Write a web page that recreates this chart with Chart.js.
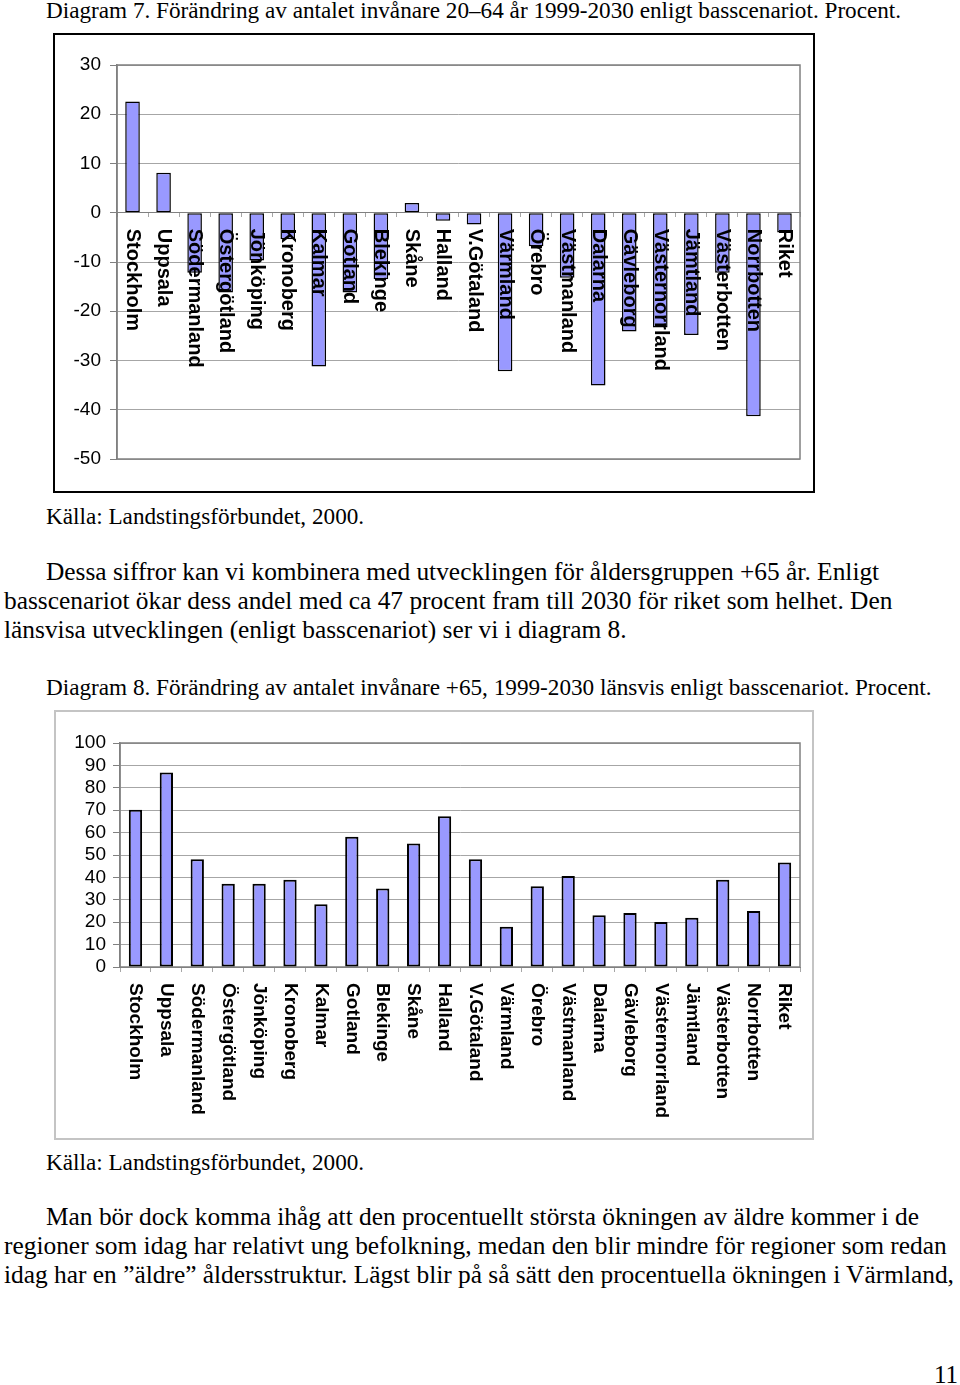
<!DOCTYPE html>
<html lang="sv">
<head>
<meta charset="utf-8">
<title>Diagram 7 och 8</title>
<script src="https://cdn.jsdelivr.net/npm/chart.js@4.4.1/dist/chart.umd.min.js"></script>
<style>
  html, body { margin: 0; padding: 0; background: #fff; }
  body {
    width: 960px; height: 1385px; position: relative; overflow: hidden;
    font-family: "Liberation Serif", "Times New Roman", serif; color: #000;
  }
  .txt { position: absolute; white-space: nowrap; line-height: 1; }
  .t23 { font-size: 23.2px; }
  .p25 { font-size: 25.4px; line-height: 29px; left: 4px; text-indent: 42px; }
  .frame { position: absolute; box-sizing: border-box; }
  .chart { position: absolute; }
</style>
</head>
<body>

<div class="txt t23" style="left:46px; top:-1px;">Diagram 7. Förändring av antalet invånare 20–64 år 1999-2030 enligt basscenariot. Procent.</div>

<div class="frame" style="left:53px; top:33px; width:762px; height:460px; border:2px solid #000;"></div>
<div class="chart" style="left:53px; top:33px; width:762px; height:460px;">
  <canvas id="diagram7"></canvas>
</div>

<div class="txt t23" style="left:46px; top:505px;">Källa: Landstingsförbundet, 2000.</div>

<div class="txt p25" style="top:557px;">Dessa siffror kan vi kombinera med utvecklingen för åldersgruppen +65 år. Enligt<br>basscenariot ökar dess andel med ca 47 procent fram till 2030 för riket som helhet. Den<br>länsvisa utvecklingen (enligt basscenariot) ser vi i diagram 8.</div>

<div class="txt t23" style="left:46px; top:676px;">Diagram 8. Förändring av antalet invånare +65, 1999-2030 länsvis enligt basscenariot. Procent.</div>

<div class="frame" style="left:54px; top:710px; width:760px; height:430px; border:2px solid #c4c4c4;"></div>
<div class="chart" style="left:54px; top:710px; width:760px; height:430px;">
  <canvas id="diagram8"></canvas>
</div>

<div class="txt t23" style="left:46px; top:1151px;">Källa: Landstingsförbundet, 2000.</div>

<div class="txt p25" style="top:1202px;">Man bör dock komma ihåg att den procentuellt största ökningen av äldre kommer i de<br>regioner som idag har relativt ung befolkning, medan den blir mindre för regioner som redan<br>idag har en ”äldre” åldersstruktur. Lägst blir på så sätt den procentuella ökningen i Värmland,</div>

<div class="txt" style="right:2px; top:1362px; font-size:25px;">11</div>

<script>
// länen, samma ordning i båda diagrammen
const lan = [
  "Stockholm", "Uppsala", "Södermanland", "Östergötland", "Jönköping",
  "Kronoberg", "Kalmar", "Gotland", "Blekinge", "Skåne", "Halland",
  "V.Götaland", "Värmland", "Örebro", "Västmanland", "Dalarna",
  "Gävleborg", "Västernorrland", "Jämtland", "Västerbotten", "Norrbotten", "Riket"
];

// diagram 7: invånare 20-64 år, förändring i procent
const forandring2064 = [
  22.6, 8.1, -12.2, -16.2, -9.7, -5.4, -31.2, -16.2, -13.5, 2.0, -1.6,
  -2.4, -32.2, -6.8, -13.2, -35.1, -24.1, -23.3, -24.8, -12.2, -41.3, -4.0
];

// diagram 8: invånare +65, förändring i procent
const forandring65 = [
  70.2, 86.8, 48.1, 37.2, 37.2, 39.0, 28.0, 58.2, 35.0, 55.1, 67.3,
  48.1, 18.0, 36.0, 40.6, 23.1, 24.1, 20.1, 22.0, 39.0, 25.0, 46.6
];

const yTicks7 = [30, 20, 10, 0, -10, -20, -30, -40, -50];
const yTicks8 = [100, 90, 80, 70, 60, 50, 40, 30, 20, 10, 0];

const BAR_FILL = "#9999ff";
const GRID = "#a6a6a6";
const FRAME = "#808080";

// ram runt ritytan
const plotFrame = {
  id: "plotFrame",
  beforeDatasetsDraw(chart) {
    const { ctx, chartArea: a } = chart;
    ctx.save();
    ctx.strokeStyle = FRAME;
    ctx.lineWidth = 1.5;
    ctx.strokeRect(a.left, a.top, a.right - a.left, a.bottom - a.top);
    ctx.restore();
  }
};

// kategorietiketter, vridna medurs (läses uppifrån och ned)
const rotatedLabels = {
  id: "rotatedLabels",
  afterDatasetsDraw(chart, args, opts) {
    const { ctx, scales } = chart;
    const top = scales.y.getPixelForValue(0) + opts.gap;
    ctx.save();
    ctx.font = opts.font;
    ctx.fillStyle = "#000";
    ctx.textAlign = "left";
    ctx.textBaseline = "middle";
    chart.data.labels.forEach((label, i) => {
      ctx.save();
      ctx.translate(scales.x.getPixelForValue(i), top);
      ctx.rotate(Math.PI / 2);
      ctx.fillText(label, 0, 0);
      ctx.restore();
    });
    ctx.restore();
  }
};

function yAxis(tickList, width, padding) {
  return {
    min: tickList[tickList.length - 1],
    max: tickList[0],
    afterBuildTicks: (scale) => {
      scale.ticks = tickList.slice().reverse().map((v) => ({ value: v }));
    },
    afterFit: (scale) => { scale.width = width; },
    grid: { color: GRID, lineWidth: 1, drawTicks: true, tickLength: 7, tickColor: FRAME },
    border: { display: true, color: FRAME, width: 1.5 },
    ticks: {
      autoSkip: false,
      color: "#000",
      padding: padding,
      font: { family: "Liberation Sans, Arial, sans-serif", size: 19 }
    }
  };
}

new Chart(document.getElementById("diagram7").getContext("2d"), {
  type: "bar",
  data: {
    labels: lan,
    datasets: [{
      data: forandring2064,
      backgroundColor: BAR_FILL,
      borderColor: "#000",
      borderWidth: 1.5,
      borderSkipped: false,
      barPercentage: 0.47,
      categoryPercentage: 1
    }]
  },
  options: {
    responsive: true,
    maintainAspectRatio: false,
    animation: false,
    layout: { padding: { top: 32, right: 15, bottom: 34, left: 0 } },
    plugins: {
      legend: { display: false },
      tooltip: { enabled: false },
      rotatedLabels: { font: "bold 20px 'Liberation Sans', Arial, sans-serif", gap: 16 }
    },
    scales: {
      x: {
        position: { y: 0 },
        offset: true,
        grid: { display: true, offset: true, drawOnChartArea: false, drawTicks: true, tickLength: 4, color: GRID },
        border: { display: true, color: FRAME },
        ticks: { display: false }
      },
      y: yAxis(yTicks7, 64, 9)
    }
  },
  plugins: [plotFrame, rotatedLabels]
});

new Chart(document.getElementById("diagram8").getContext("2d"), {
  type: "bar",
  data: {
    labels: lan,
    datasets: [{
      data: forandring65,
      backgroundColor: BAR_FILL,
      borderColor: "#000",
      borderWidth: 2,
      borderSkipped: false,
      barPercentage: 0.43,
      categoryPercentage: 1
    }]
  },
  options: {
    responsive: true,
    maintainAspectRatio: false,
    animation: false,
    layout: { padding: { top: 33, right: 14, bottom: 167, left: 0 } },
    plugins: {
      legend: { display: false },
      tooltip: { enabled: false },
      rotatedLabels: { font: "bold 19px 'Liberation Sans', Arial, sans-serif", gap: 16 }
    },
    scales: {
      x: {
        position: "bottom",
        offset: true,
        afterFit: (scale) => { scale.height = 6; },
        grid: { display: true, offset: true, drawOnChartArea: false, drawTicks: true, tickLength: 5, color: GRID },
        border: { display: true, color: FRAME },
        ticks: { display: false }
      },
      y: yAxis(yTicks8, 66, 7)
    }
  },
  plugins: [plotFrame, rotatedLabels]
});
</script>
</body>
</html>
